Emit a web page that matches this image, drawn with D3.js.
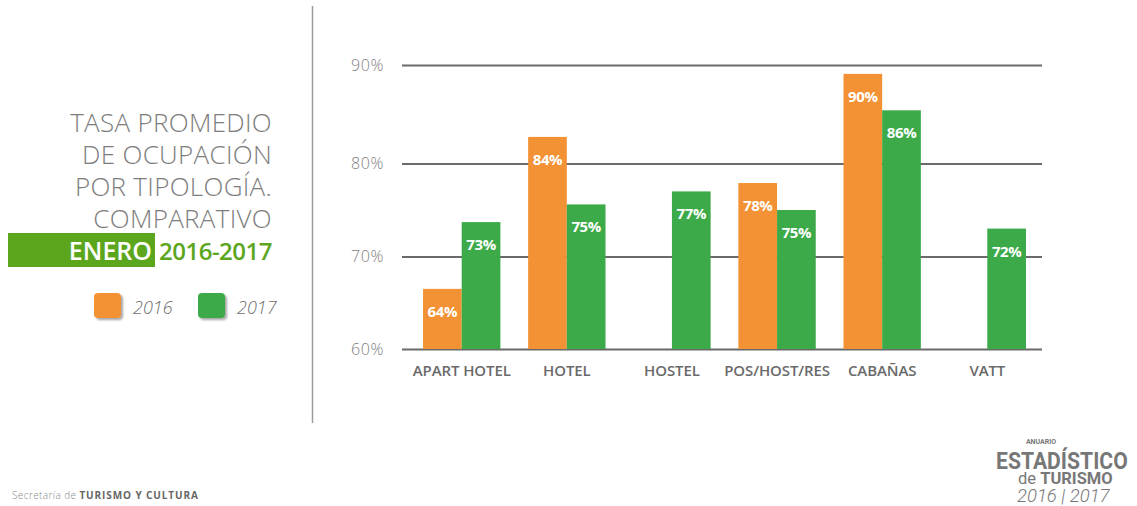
<!DOCTYPE html>
<html>
<head>
<meta charset="utf-8">
<script src="https://cdn.jsdelivr.net/npm/d3@7"></script>
<style>
  body { margin: 0; background: #fff; }
  svg { display: block; font-family: 'Open Sans', sans-serif; }
</style>
</head>
<body>
<svg id="chart" width="1137" height="506"></svg>
<script>
// data
const categories = ['APART HOTEL', 'HOTEL', 'HOSTEL', 'POS/HOST/RES', 'CABAÑAS', 'VATT'];
const years = ['2016', '2017'];
const values2016 = [66.5, 82.7, null, 77.9, 89.1, null];
const values2017 = [73.7, 75.6, 77.0, 75.0, 85.4, 73.0];
const labels2016 = [64, 84, null, 78, 90, null];
const labels2017 = [73, 75, 77, 75, 86, 72];
const yTicks = [60, 70, 80, 90];
const titleLines = ['TASA PROMEDIO', 'DE OCUPACIÓN', 'POR TIPOLOGÍA.', 'COMPARATIVO'];

const colors = { '2016': '#f39234', '2017': '#3caa49' };

const svg = d3.select('#chart');

const defs = svg.append('defs');
defs.append('filter').attr('id', 'shadow')
  .attr('x', '-30%').attr('y', '-30%').attr('width', '170%').attr('height', '170%')
  .append('feDropShadow')
  .attr('dx', 2).attr('dy', 2).attr('stdDeviation', 1.2)
  .attr('flood-color', '#000').attr('flood-opacity', 0.35);

// separator
svg.append('line')
  .attr('x1', 312.5).attr('x2', 312.5).attr('y1', 6).attr('y2', 423)
  .attr('stroke', '#9a9a9a').attr('stroke-width', 1.5);

// title block
const title = svg.append('g').attr('text-anchor', 'end');
title.selectAll('text.line')
  .data(titleLines)
  .enter()
  .append('text')
  .attr('class', 'line')
  .attr('x', 272)
  .attr('y', (d, i) => 132 + i * 32)
  .attr('font-size', 26)
  .attr('font-weight', 300)
  .attr('fill', '#7d7d7d')
  .attr('letter-spacing', 0.3)
  .text(d => d);

svg.append('rect')
  .attr('x', 8).attr('y', 233).attr('width', 147).attr('height', 34)
  .attr('fill', '#5ca61e');
svg.append('text')
  .attr('x', 152).attr('y', 260).attr('text-anchor', 'end')
  .attr('font-size', 25).attr('font-weight', 600).attr('fill', '#fff')
  .text('ENERO');
svg.append('text')
  .attr('x', 272).attr('y', 260).attr('text-anchor', 'end')
  .attr('font-size', 24).attr('font-weight', 600).attr('fill', '#5ca61e')
  .attr('letter-spacing', -0.5)
  .text('2016-2017');

// legend
const legend = svg.append('g');
const legendItems = legend.selectAll('g')
  .data(years)
  .enter()
  .append('g')
  .attr('transform', (d, i) => `translate(${94 + i * 104},293)`);
legendItems.append('rect')
  .attr('width', 27).attr('height', 25).attr('rx', 4)
  .attr('fill', d => colors[d])
  .attr('filter', 'url(#shadow)');
legendItems.append('text')
  .attr('x', 39).attr('y', 21)
  .attr('font-size', 18).attr('font-style', 'italic').attr('font-weight', 300)
  .attr('fill', '#6f6f6f')
  .text(d => d);

// chart
const left = 402;
const right = 1042;
const y = d3.scaleLinear().domain(yTicks).range([349, 256.5, 163.5, 65]);
const x0 = d3.scaleBand().domain(categories).range([402, 1047]).paddingInner(0.264).paddingOuter(0.2);
const x1 = d3.scaleBand().domain(years).range([0, x0.bandwidth()]);

const yAxis = svg.append('g')
  .attr('transform', `translate(${left},0)`)
  .call(d3.axisLeft(y).tickValues(yTicks).tickSize(-(right - left)).tickPadding(18).tickFormat(d => `${d}%`));
yAxis.select('.domain').remove();
yAxis.selectAll('.tick line').attr('stroke', '#6a6a6a').attr('stroke-width', 2);
yAxis.selectAll('.tick text')
  .attr('font-family', "'Open Sans', sans-serif")
  .attr('font-size', 16).attr('font-weight', 300).attr('fill', '#808080')
  .attr('letter-spacing', 0.6);

const rows = categories.map((c, i) => ({
  category: c,
  bars: [
    { year: '2016', value: values2016[i], label: labels2016[i] },
    { year: '2017', value: values2017[i], label: labels2017[i] },
  ].filter(b => b.value !== null),
}));

const groups = svg.append('g')
  .selectAll('g')
  .data(rows)
  .enter()
  .append('g')
  .attr('transform', d => `translate(${x0(d.category)},0)`);

groups.selectAll('rect')
  .data(d => d.bars)
  .enter()
  .append('rect')
  .attr('x', d => x1(d.year))
  .attr('y', d => y(d.value))
  .attr('width', x1.bandwidth())
  .attr('height', d => y(60) - y(d.value))
  .attr('fill', d => colors[d.year]);

groups.selectAll('text')
  .data(d => d.bars)
  .enter()
  .append('text')
  .attr('x', d => x1(d.year) + x1.bandwidth() / 2)
  .attr('y', d => y(d.value) + 28)
  .attr('text-anchor', 'middle')
  .attr('font-size', 15).attr('font-weight', 700).attr('fill', '#fff')
  .attr('letter-spacing', -0.4)
  .text(d => `${d.label}%`);

const xAxis = svg.append('g')
  .attr('transform', `translate(0,${y(60)})`)
  .call(d3.axisBottom(x0).tickSize(0).tickPadding(16));
xAxis.select('.domain').remove();
xAxis.selectAll('.tick text')
  .attr('font-family', "'Open Sans', sans-serif")
  .attr('font-size', 15).attr('font-weight', 600).attr('fill', '#6a6a6a')
  .attr('letter-spacing', -0.1);

// footer
const foot = svg.append('text')
  .attr('x', 12).attr('y', 499)
  .attr('font-size', 10).attr('fill', '#8a8a8a');
foot.append('tspan').attr('font-weight', 300).attr('letter-spacing', 0.4).text('Secretaría de ');
foot.append('tspan').attr('font-weight', 700).attr('fill', '#666').attr('letter-spacing', 0.9).text('TURISMO Y CULTURA');

// logo
const logo = svg.append('g').attr('fill', '#777').attr('font-family', "'Roboto', sans-serif");
logo.append('text')
  .attr('x', 1041).attr('y', 444).attr('text-anchor', 'middle')
  .attr('font-size', 7).attr('font-weight', 700)
  .text('ANUARIO');
logo.append('text')
  .attr('transform', 'translate(996,468.5) scale(0.92,1)')
  .attr('font-size', 23).attr('font-weight', 700)
  .text('ESTADÍSTICO');
const de = logo.append('text')
  .attr('x', 1018).attr('y', 484)
  .attr('font-size', 16.5);
de.append('tspan').attr('font-weight', 400).text('de ');
de.append('tspan').attr('font-weight', 700).text('TURISMO');
logo.append('text')
  .attr('x', 1017).attr('y', 501.5)
  .attr('font-size', 18.5).attr('font-style', 'italic').attr('font-weight', 300)
  .text('2016 | 2017');
</script>
</body>
</html>
